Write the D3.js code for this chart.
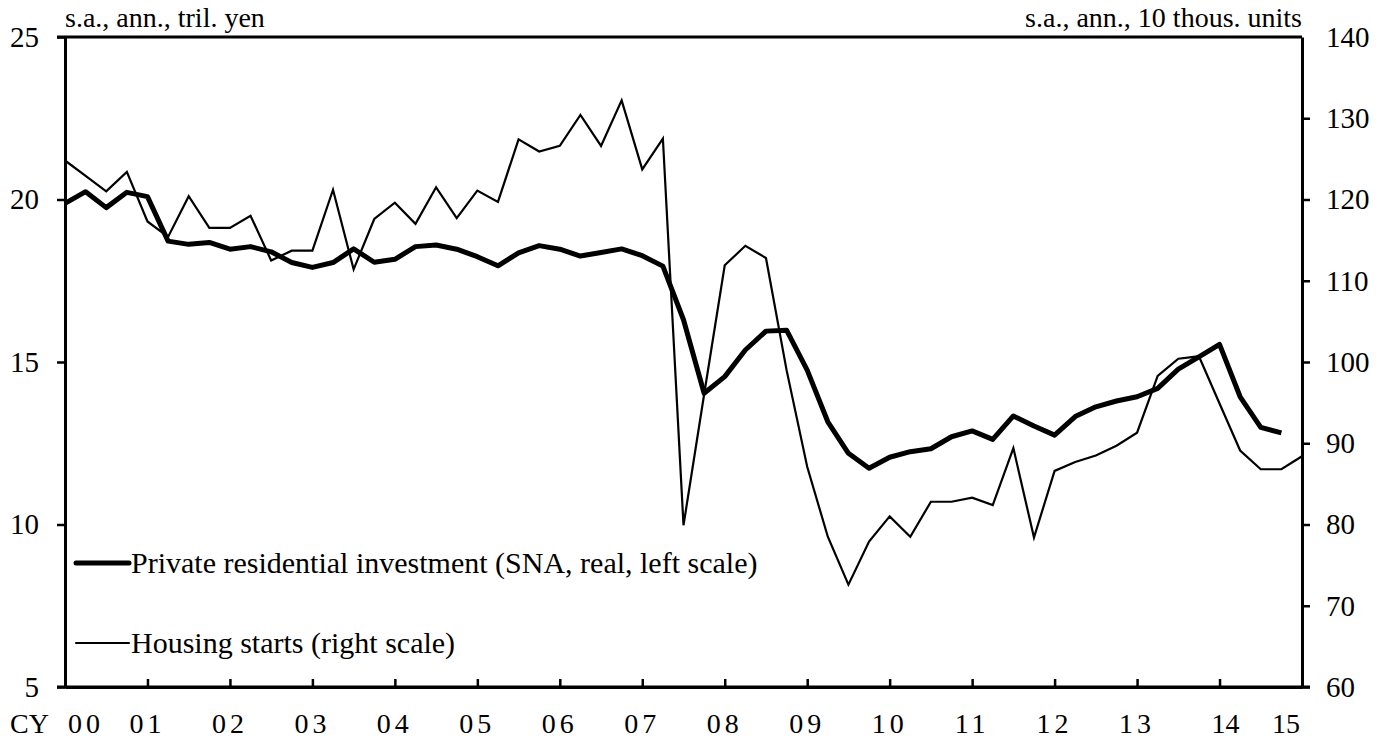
<!DOCTYPE html>
<html>
<head>
<meta charset="utf-8">
<script src="https://cdn.jsdelivr.net/npm/d3@7/dist/d3.min.js"></script>
<style>
  html, body { margin: 0; padding: 0; background: #fff; }
  svg { display: block; }
  text { font-family: 'Times New Roman', 'Liberation Serif', serif; fill: #000; }
</style>
</head>
<body>
<div id="chart"></div>
<script>
// Quarterly data, CY2000 Q1 onward.
const yearLabels = ['00', '01', '02', '03', '04', '05', '06', '07',
  '08', '09', '10', '11', '12', '13', '14', '15'];

// Private residential investment (SNA, real), tril. yen, left scale. 2000Q1 - 2014Q4
const investment = [
  19.88, 20.24, 19.75, 20.22, 20.09, 18.72, 18.62, 18.68, 18.47, 18.55,
  18.39, 18.06, 17.91, 18.06, 18.48, 18.07, 18.16, 18.55, 18.60, 18.47,
  18.24, 17.96, 18.36, 18.58, 18.47, 18.26, 18.37, 18.48, 18.27, 17.95,
  16.30, 14.04, 14.55, 15.37, 15.95, 15.98, 14.75, 13.16, 12.19, 11.73,
  12.07, 12.24, 12.33, 12.70, 12.88, 12.62, 13.34, 13.03, 12.75, 13.32,
  13.62, 13.80, 13.93, 14.19, 14.78, 15.16, 15.54, 13.93, 12.99, 12.82,
];

// Housing starts, 10 thous. units, right scale. 2000Q1 - 2015Q1
const housingStarts = [
  124.8, 122.9, 121.0, 123.4, 117.3, 115.4, 120.4, 116.5, 116.5, 118.0,
  112.5, 113.7, 113.7, 121.2, 111.4, 117.6, 119.6, 117.0, 121.5, 117.7,
  121.1, 119.7, 127.4, 125.9, 126.6, 130.4, 126.6, 132.2, 123.7, 127.5,
  79.9, 96.0, 111.9, 114.3, 112.8, 99.0, 87.1, 78.5, 72.6, 77.9,
  81.0, 78.5, 82.8, 82.8, 83.3, 82.4, 89.4, 78.4, 86.6, 87.7,
  88.5, 89.7, 91.3, 98.3, 100.4, 100.7, 94.9, 89.1, 86.8, 86.8,
  88.4,
];

const leftTicks = [5, 10, 15, 20, 25];
const rightTicks = [60, 70, 80, 90, 100, 110, 120, 130, 140];

const legendItems = [
  { label: 'Private residential investment (SNA, real, left scale)', width: 5 },
  { label: 'Housing starts (right scale)', width: 2.2 },
];

const width = 1387;
const height = 744;
const margin = { top: 37, right: 85, bottom: 57, left: 65 };
const plotRight = width - margin.right;
const plotBottom = height - margin.bottom;

const svg = d3.select('#chart').append('svg')
  .attr('width', width)
  .attr('height', height);

const x = d3.scaleLinear()
  .domain([0, (yearLabels.length - 1) * 4])
  .range([margin.left, plotRight]);

const yLeft = d3.scaleLinear().domain([5, 25]).range([plotBottom, margin.top]);
const yRight = d3.scaleLinear().domain([60, 140]).range([plotBottom, margin.top]);

// axes
const leftAxis = d3.axisLeft(yLeft)
  .tickValues(leftTicks)
  .tickSizeInner(8)
  .tickSizeOuter(0)
  .tickPadding(18)
  .tickFormat(d3.format('d'));

const rightAxis = d3.axisRight(yRight)
  .tickValues(rightTicks)
  .tickSizeInner(8)
  .tickSizeOuter(0)
  .tickPadding(16)
  .tickFormat(d3.format('d'));

const bottomAxis = d3.axisBottom(x)
  .tickValues(d3.range(4, (yearLabels.length - 1) * 4, 4))
  .tickSizeInner(-8)
  .tickSizeOuter(0)
  .tickFormat('');

function styleAxis(g) {
  g.select('.domain').attr('stroke', '#000').attr('stroke-width', 3);
  g.selectAll('.tick line').attr('stroke', '#000').attr('stroke-width', 2.5);
  g.selectAll('.tick text')
    .attr('font-size', '29px')
    .attr('font-family', "'Times New Roman', 'Liberation Serif', serif")
    .attr('fill', '#000');
}

svg.append('g')
  .attr('transform', `translate(${margin.left},0)`)
  .call(leftAxis)
  .call(styleAxis);

const rightG = svg.append('g')
  .attr('transform', `translate(${plotRight},0)`)
  .call(rightAxis)
  .call(styleAxis);
// no tick mark at the very top of the right scale
rightG.selectAll('.tick line').filter(d => d === 140).remove();

svg.append('g')
  .attr('transform', `translate(0,${plotBottom})`)
  .call(bottomAxis)
  .call(styleAxis);

// top frame line and bottom line spanning both outer ticks
svg.append('line')
  .attr('x1', margin.left - 8).attr('x2', plotRight)
  .attr('y1', margin.top).attr('y2', margin.top)
  .attr('stroke', '#000').attr('stroke-width', 3);
svg.append('line')
  .attr('x1', margin.left - 8).attr('x2', plotRight + 8)
  .attr('y1', plotBottom).attr('y2', plotBottom)
  .attr('stroke', '#000').attr('stroke-width', 3);

// year labels
svg.append('text')
  .attr('x', 10)
  .attr('y', height - 11)
  .attr('font-size', '28px')
  .text('CY');

svg.append('g').selectAll('text')
  .data(yearLabels)
  .join('text')
  .attr('x', (d, i) => {
    if (i === 0) return x(0) + 3;
    if (i === yearLabels.length - 1) return x(i * 4) - 2;
    if (i === yearLabels.length - 2) return x(i * 4) + 6;
    return x(i * 4);
  })
  .attr('y', height - 11)
  .attr('text-anchor', (d, i) => {
    if (i === 0) return 'start';
    if (i === yearLabels.length - 1) return 'end';
    return 'middle';
  })
  .attr('letter-spacing', (d, i) => (i < yearLabels.length - 2 ? '4px' : '0px'))
  .attr('font-size', '28px')
  .text(d => d);

// unit labels
svg.append('text')
  .attr('x', margin.left)
  .attr('y', 27)
  .attr('font-size', '28px')
  .text('s.a., ann., tril. yen');

svg.append('text')
  .attr('x', plotRight)
  .attr('y', 27)
  .attr('text-anchor', 'end')
  .attr('font-size', '28px')
  .text('s.a., ann., 10 thous. units');

// series
const lineLeft = d3.line()
  .x((d, i) => x(i))
  .y(d => yLeft(d));

const lineRight = d3.line()
  .x((d, i) => x(i))
  .y(d => yRight(d));

svg.append('path')
  .datum(housingStarts)
  .attr('fill', 'none')
  .attr('stroke', '#000')
  .attr('stroke-width', 2.2)
  .attr('stroke-linejoin', 'miter')
  .attr('d', lineRight);

svg.append('path')
  .datum(investment)
  .attr('fill', 'none')
  .attr('stroke', '#000')
  .attr('stroke-width', 5)
  .attr('stroke-linejoin', 'round')
  .attr('d', lineLeft);

// legend
const legend = svg.append('g').selectAll('g')
  .data(legendItems)
  .join('g')
  .attr('transform', (d, i) => `translate(76,${563 + i * 80})`);

legend.append('line')
  .attr('x1', 0).attr('x2', 53)
  .attr('y1', 0).attr('y2', 0)
  .attr('stroke', '#000')
  .attr('stroke-width', d => d.width)
  .attr('stroke-linecap', 'round');

legend.append('text')
  .attr('x', 55)
  .attr('y', 10)
  .attr('font-size', '30px')
  .text(d => d.label);
</script>
</body>
</html>
